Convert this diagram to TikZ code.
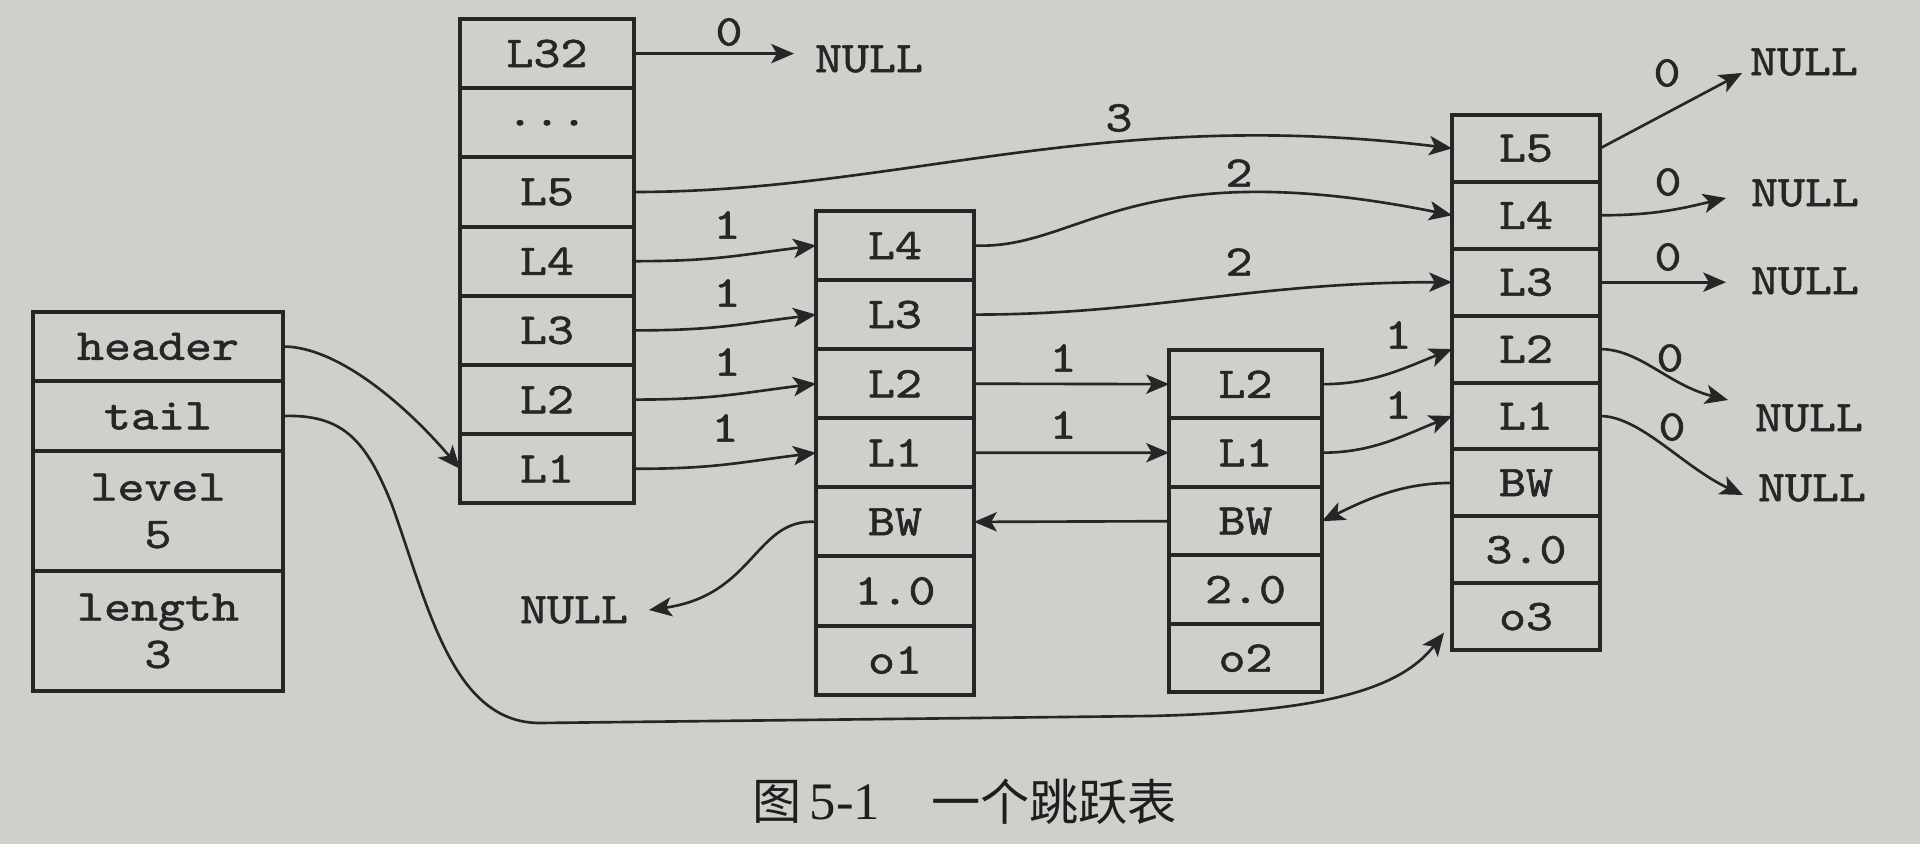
\documentclass[tikz,border=0pt]{standalone}
\usepackage{fontspec}
\usepackage{graphicx}
\newfontfamily\cjkfont{Noto Sans CJK SC}
\newfontfamily\capserif{Liberation Serif}
\newfontfamily\cmono{lmmono10-regular.otf}[FakeBold=1.2]
\usetikzlibrary{arrows.meta,calc}
\definecolor{bgc}{RGB}{207,207,203}
\definecolor{ink}{RGB}{38,38,38}
\newcommand\mt[1]{\scalebox{1.17}[1]{#1}}
\tikzset{
  cell/.style={draw=ink, line width=2.3pt, inner sep=0pt, outer sep=0pt, rectangle,
    font=\fontsize{25}{27}\selectfont\cmono, text=ink, align=center},
  hcell/.style={cell, minimum width=3.48cm, minimum height=1.384cm},
  acell/.style={cell, minimum width=3.16cm, minimum height=1.382cm},
  bcell/.style={cell, minimum width=3.06cm, minimum height=1.37cm},
  ccell/.style={cell, minimum width=2.96cm, minimum height=1.338cm},
  scell/.style={cell, minimum width=5cm},
  lab/.style={inner sep=0pt, outer sep=0pt, font=\fontsize{25}{27}\selectfont\cmono, text=ink},
  ptr/.style={draw=ink, line width=1.5pt, -{Stealth[length=13pt,width=11pt,inset=3.2pt]}},
  capt/.style={inner sep=0pt, text={rgb,255:red,30;green,30;blue,30}},
}
\begin{document}
\begin{tikzpicture}[x=0.02cm, y=-0.02cm]
\fill[bgc] (0,0) rectangle (1920,844);
\useasboundingbox (0,0) rectangle (1920,844);

% zskiplist struct
\node[scell, minimum height=1.38cm] (header) at (158,346.5) {\mt{header}};
\node[scell, minimum height=1.4cm] (tail) at (158,416) {\mt{tail}};
\node[scell, minimum height=2.4cm] (level) at (158,511) {\mt{level}\\\mt{5}};
\node[scell, minimum height=2.4cm] (length) at (158,631) {\mt{length}\\\mt{3}};

% header node
\node[hcell] (hcL32) at (547,53.6) {\mt{L32}};
\node[hcell] (hcdots) at (547,122.8) {\mt{...}};
\node[hcell] (hcL5) at (547,192) {\mt{L5}};
\node[hcell] (hcL4) at (547,261.2) {\mt{L4}};
\node[hcell] (hcL3) at (547,330.4) {\mt{L3}};
\node[hcell] (hcL2) at (547,399.6) {\mt{L2}};
\node[hcell] (hcL1) at (547,468.8) {\mt{L1}};

% node o1
\node[acell] (n1L4) at (895,245.5) {\mt{L4}};
\node[acell] (n1L3) at (895,314.6) {\mt{L3}};
\node[acell] (n1L2) at (895,383.7) {\mt{L2}};
\node[acell] (n1L1) at (895,452.8) {\mt{L1}};
\node[acell] (n1BW) at (895,521.9) {\mt{BW}};
\node[acell] (n1sc) at (895,591) {\mt{1.0}};
\node[acell] (n1ob) at (895,660.1) {\mt{o1}};

% node o2
\node[bcell] (n2L2) at (1245.5,384.2) {\mt{L2}};
\node[bcell] (n2L1) at (1245.5,452.7) {\mt{L1}};
\node[bcell] (n2BW) at (1245.5,521.2) {\mt{BW}};
\node[bcell] (n2sc) at (1245.5,589.7) {\mt{2.0}};
\node[bcell] (n2ob) at (1245.5,658.2) {\mt{o2}};

% node o3
\node[ccell] (n3L5) at (1526,148.4) {\mt{L5}};
\node[ccell] (n3L4) at (1526,215.3) {\mt{L4}};
\node[ccell] (n3L3) at (1526,282.2) {\mt{L3}};
\node[ccell] (n3L2) at (1526,349.1) {\mt{L2}};
\node[ccell] (n3L1) at (1526,416) {\mt{L1}};
\node[ccell] (n3BW) at (1526,482.9) {\mt{BW}};
\node[ccell] (n3sc) at (1526,549.8) {\mt{3.0}};
\node[ccell] (n3o3) at (1526,616.7) {\mt{o3}};

% NULL texts
\node[lab] (nT) at (869,59) {\mt{NULL}};
\node[lab] (nA) at (1804,62) {\mt{NULL}};
\node[lab] (nB) at (1805,193) {\mt{NULL}};
\node[lab] (nC) at (1805,281) {\mt{NULL}};
\node[lab] (nD) at (1809,418) {\mt{NULL}};
\node[lab] (nE) at (1812,488) {\mt{NULL}};
\node[lab] (nF) at (574,610) {\mt{NULL}};

% span labels
\node[lab] (s0) at (729,32) {\mt{0}};
\node[lab] (s3) at (1119,118) {\mt{3}};
\node[lab] (s2a) at (1239,173) {\mt{2}};
\node[lab] (s2b) at (1239,262) {\mt{2}};
\node[lab] (s1a) at (727,225) {\mt{1}};
\node[lab] (s1b) at (727,293) {\mt{1}};
\node[lab] (s1c) at (727,362) {\mt{1}};
\node[lab] (s1d) at (725,428) {\mt{1}};
\node[lab] (s1e) at (1063,358) {\mt{1}};
\node[lab] (s1f) at (1063,425) {\mt{1}};
\node[lab] (s1g) at (1398,335) {\mt{1}};
\node[lab] (s1h) at (1398,405) {\mt{1}};
\node[lab] (r0a) at (1667,73) {\mt{0}};
\node[lab] (r0b) at (1668,182) {\mt{0}};
\node[lab] (r0c) at (1668,257) {\mt{0}};
\node[lab] (r0d) at (1670,358) {\mt{0}};
\node[lab] (r0e) at (1672,427) {\mt{0}};

% caption
\node[capt, font=\fontsize{28}{30}\selectfont\cjkfont] (cap1) at (777,802) {图};
\node[capt, font=\fontsize{30}{32}\selectfont\capserif] (cap2) at (845,802) {5-1};
\node[capt, font=\fontsize{28}{30}\selectfont\cjkfont] (cap3) at (1054,802) {一个跳跃表};

% pointers header column -> o1
\draw[ptr] (hcL4.east) .. controls +(80,0) and +(-80,10) .. (n1L4.west);
\draw[ptr] (hcL3.east) .. controls +(80,0) and +(-80,10) .. (n1L3.west);
\draw[ptr] (hcL2.east) .. controls +(80,0) and +(-80,10) .. (n1L2.west);
\draw[ptr] (hcL1.east) .. controls +(80,0) and +(-80,10) .. (n1L1.west);

% o1 -> o2
\draw[ptr] (n1L2.east) -- (n2L2.west);
\draw[ptr] (n1L1.east) -- (n2L1.west);
\draw[ptr] (n2BW.west) -- (n1BW.east);

% o2 -> o3
\draw[ptr] (n2L2.east) .. controls +(50,0) and +(-50,20) .. (n3L2.west);
\draw[ptr] (n2L1.east) .. controls +(50,0) and +(-50,20) .. (n3L1.west);
\draw[ptr] (n3BW.west) .. controls +(-50,0) and +(45,-22) .. (n2BW.east);

% long jumps
\draw[ptr] (hcL5.east) .. controls +(266,0) and +(-352,-43) .. (n3L5.west);
\draw[ptr] (n1L4.east) .. controls +(106,5) and +(-322,-65) .. (n3L4.west);
\draw[ptr] (n1L3.east) .. controls +(176,0) and +(-200,0) .. (n3L3.west);

% to NULL
\draw[ptr] (hcL32.east) -- ($(hcL32.east -| nT.west)+(-21,0)$);
\draw[ptr] (n3L5.east) -- ($(nA.west)+(-8,11)$);
\draw[ptr] (n3L4.east) .. controls +(50,0) and +(-50,12) .. ($(nB.west)+(-25,5)$);
\draw[ptr] (n3L3.east) -- ($(n3L3.east -| nC.west)+(-25,0)$);
\draw[ptr] (n3L2.east) .. controls +(40,0) and +(-60,-15) .. ($(nD.west)+(-27,-18)$);
\draw[ptr] (n3L1.east) .. controls +(40,0) and +(-60,-28) .. ($(nE.west)+(-15,7)$);
\draw[ptr] (n1BW.west) .. controls +(-61,-4) and +(106,-15) .. ($(nF.east)+(21,0)$);

% header / tail pointers
\draw[ptr] (header.east) .. controls +(57,0) and +(-50,-59) .. (hcL1.west);
\coordinate (tailend) at ($(n3o3.west)+(-8,16)$);
\coordinate (tk1) at (392,505);
\coordinate (tk2) at (540,723);
\coordinate (tk3) at (1150,716);
\draw[ptr] (tail.east) .. controls +(60,-2) and (366,440) .. (tk1)
  .. controls (428,605) and (452,723) .. (tk2) -- (tk3)
  .. controls (1320,712) and (1400,690) .. (tailend);
\end{tikzpicture}
\end{document}
